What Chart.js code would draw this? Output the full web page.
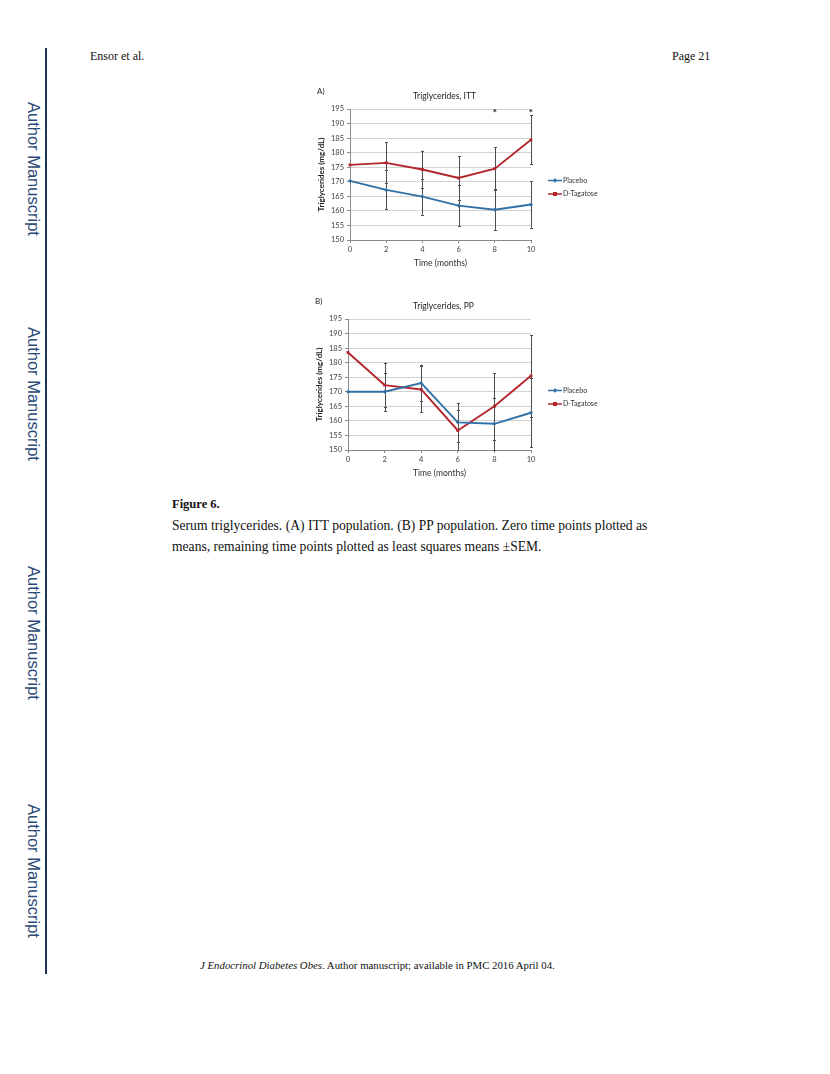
<!DOCTYPE html>
<html><head><meta charset="utf-8">
<script src="https://cdn.jsdelivr.net/npm/chart.js@4.4.1/dist/chart.umd.min.js"></script>
<style>
html,body{margin:0;padding:0;background:#fff}
body{width:830px;height:1074px;position:relative;overflow:hidden}
.vline{position:absolute;left:45px;top:48px;width:2px;height:926px;background:#1c3558}
.am{position:absolute;left:25px;writing-mode:vertical-rl;font-family:"Liberation Sans",Arial,sans-serif;font-size:16.5px;color:#2b4a78;white-space:nowrap;line-height:18px}
.hdr{position:absolute;top:49px;font-family:"Liberation Serif","Times New Roman",serif;font-size:12px;color:#111}
.box{position:absolute}
.cap{position:absolute;left:172px;font-family:"Liberation Serif","Times New Roman",serif;color:#111}
</style></head>
<body>
<div class="vline"></div>
<div class="am" style="top:102px">Author Manuscript</div>
<div class="am" style="top:327px">Author Manuscript</div>
<div class="am" style="top:566px">Author Manuscript</div>
<div class="am" style="top:804px">Author Manuscript</div>
<div class="hdr" style="left:90px">Ensor et al.</div>
<div class="hdr" style="left:672px">Page 21</div>

<div class="box" style="left:305px;top:82px;width:295px;height:205px"><canvas id="ca"></canvas></div>
<div class="box" style="left:303px;top:292px;width:297px;height:205px"><canvas id="cb"></canvas></div>

<div class="cap" style="top:497px;font-size:12.5px;font-weight:bold">Figure 6.</div>
<div class="cap" style="top:515px;font-size:13.6px;line-height:21px;width:490px">Serum triglycerides. (A) ITT population. (B) PP population. Zero time points plotted as means, remaining time points plotted as least squares means ±SEM.</div>
<div class="cap" style="left:200px;top:959px;font-size:10.8px"><i>J Endocrinol Diabetes Obes</i>. Author manuscript; available in PMC 2016 April 04.</div>

<script>
// ---- data ----
const months = ["0","2","4","6","8","10"];
const seriesNames = ["Placebo","D-Tagatose"];
const yTicks = {min:150, max:195, step:5};

const placeboA    = [170.3, 167.2, 164.9, 161.8, 160.4, 162.2];
const placeboErrA = [null, 6.7, 6.2, 7.1, 7.0, 8.0];
const tagatoseA    = [175.8, 176.5, 174.2, 171.3, 174.5, 184.4];
const tagatoseErrA = [null, 7.0, 6.5, 7.5, 7.3, 8.4];
const sigA = ["8","10"];

const placeboB    = [170.0, 170.0, 173.0, 159.5, 159.0, 162.8];
const placeboErrB = [null, 6.6, 6.3, 6.7, 9.0, 11.8];
const tagatoseB    = [183.5, 172.3, 170.8, 156.7, 165.0, 175.5];
const tagatoseErrB = [null, 7.7, 7.9, 7.0, 11.4, 14.0];
const sigB = [];

const BLUE = "#3271a6", RED = "#b3262c", ERR = "#4d4d4d";
const FONT = "Lato, 'Open Sans', sans-serif";

const extras = {
  id:'extras',
  beforeDatasetsDraw(chart){
    const {ctx, chartArea:a, scales:{x,y}} = chart;
    ctx.save();
    ctx.beginPath(); ctx.rect(a.left-4, a.top-1, a.right-a.left+8, a.bottom-a.top+2); ctx.clip();
    ctx.strokeStyle = ERR; ctx.lineWidth = 1;
    chart.data.datasets.forEach((ds,i)=>{
      if(!ds.err) return;
      chart.getDatasetMeta(i).data.forEach((pt,j)=>{
        const e = ds.err[j]; if(e==null) return;
        const v = ds.data[j];
        const px = Math.round(pt.x)+0.5;
        const yt = y.getPixelForValue(v+e), yb = y.getPixelForValue(v-e);
        ctx.beginPath();
        ctx.moveTo(px, yt); ctx.lineTo(px, yb);
        ctx.moveTo(px-1.5, Math.round(yt)+0.5); ctx.lineTo(px+1.5, Math.round(yt)+0.5);
        ctx.moveTo(px-1.5, Math.round(yb)+0.5); ctx.lineTo(px+1.5, Math.round(yb)+0.5);
        ctx.stroke();
      });
    });
    ctx.restore();
  },
  afterDraw(chart){
    const o = chart.options.plugins.extras;
    const {ctx, chartArea:a, scales:{x,y}} = chart;
    ctx.save();
    // title
    ctx.fillStyle = "#222";
    ctx.font = "8.5px " + FONT;
    ctx.textAlign = "center"; ctx.textBaseline = "middle";
    ctx.fillText(o.title, (a.left+a.right)/2 + 4, a.top - 13);
    ctx.textAlign = "left";
    ctx.font = "8px " + FONT;
    ctx.fillText(o.panel, a.left - 33, a.top - 18);
    // significance marks
    ctx.fillStyle = "#111";
    ctx.font = "bold 10px " + FONT;
    ctx.textAlign = "center";
    o.sig.forEach(lbl=>{
      const i = chart.data.labels.indexOf(lbl);
      ctx.fillText("*", x.getPixelForValue(i), y.getPixelForValue(193.6));
    });
    // legend
    const cy = (a.top+a.bottom)/2;
    chart.data.datasets.forEach((ds,i)=>{
      const ly = cy + 6 + i*13.5;
      const x0 = a.right + 17, x1 = a.right + 31;
      ctx.strokeStyle = ds.borderColor; ctx.lineWidth = 1.5;
      ctx.beginPath(); ctx.moveTo(x0, ly); ctx.lineTo(x1, ly); ctx.stroke();
      ctx.fillStyle = ds.borderColor;
      const mx = (x0+x1)/2;
      if(ds.pointStyle === 'rect'){ ctx.fillRect(mx-2, ly-2, 4, 4); }
      else { ctx.beginPath(); ctx.moveTo(mx, ly-2.2); ctx.lineTo(mx+2.2, ly); ctx.lineTo(mx, ly+2.2); ctx.lineTo(mx-2.2, ly); ctx.closePath(); ctx.fill(); }
      ctx.fillStyle = "#333"; ctx.font = "7px " + FONT;
      ctx.textAlign = "left"; ctx.textBaseline = "middle";
      ctx.fillText(ds.label, x1 + 1, ly);
    });
    ctx.restore();
  }
};

function makeChart(id, title, panel, plc, plcErr, tag, tagErr, sig){
  return new Chart(document.getElementById(id), {
    type:'line',
    data:{
      labels: months,
      datasets:[
        {label:seriesNames[0], data:plc, err:plcErr, borderColor:BLUE, backgroundColor:BLUE, borderWidth:1.9,
         pointStyle:'rectRot', pointRadius:2, pointBorderWidth:0, tension:0},
        {label:seriesNames[1], data:tag, err:tagErr, borderColor:RED, backgroundColor:RED, borderWidth:1.9,
         pointStyle:'rect', pointRadius:2, pointBorderWidth:0, tension:0}
      ]
    },
    options:{
      responsive:true, maintainAspectRatio:false, animation:false,
      devicePixelRatio:1,
      layout:{padding:{left:12, right:69, top:27, bottom:19}},
      plugins:{legend:{display:false}, tooltip:{enabled:false}, title:{display:false},
        extras:{title:title, panel:panel, sig:sig}},
      scales:{
        x:{
          offset:false,
          grid:{display:true, drawOnChartArea:false, drawTicks:true, tickLength:3, tickColor:"#8a8a8a"},
          border:{display:true, color:"#8a8a8a", width:1},
          ticks:{color:"#404040", font:{family:FONT, size:7.5}, padding:2, maxRotation:0},
          title:{display:true, text:"Time (months)", color:"#333", font:{family:FONT, size:8.5}, padding:{top:0,bottom:0}},
          afterFit:(s)=>{ s.height = 28; }
        },
        y:{
          min:yTicks.min, max:yTicks.max,
          grid:{color:"#d2d2d2", lineWidth:1, drawTicks:true, tickLength:3, tickColor:"#8a8a8a"},
          border:{display:true, color:"#8a8a8a", width:1},
          ticks:{stepSize:yTicks.step, color:"#404040", font:{family:FONT, size:7.5}, padding:3},
          title:{display:true, text:"Triglycerides (mg/dL)", color:"#222", font:{family:FONT, size:8, weight:'bold'}, padding:{top:0,bottom:1}},
          afterFit:(s)=>{ s.width = 33; }
        }
      }
    },
    plugins:[extras]
  });
}

makeChart('ca', "Triglycerides, ITT", "A)", placeboA, placeboErrA, tagatoseA, tagatoseErrA, sigA);
makeChart('cb', "Triglycerides, PP", "B)", placeboB, placeboErrB, tagatoseB, tagatoseErrB, sigB);
</script>
</body></html>
